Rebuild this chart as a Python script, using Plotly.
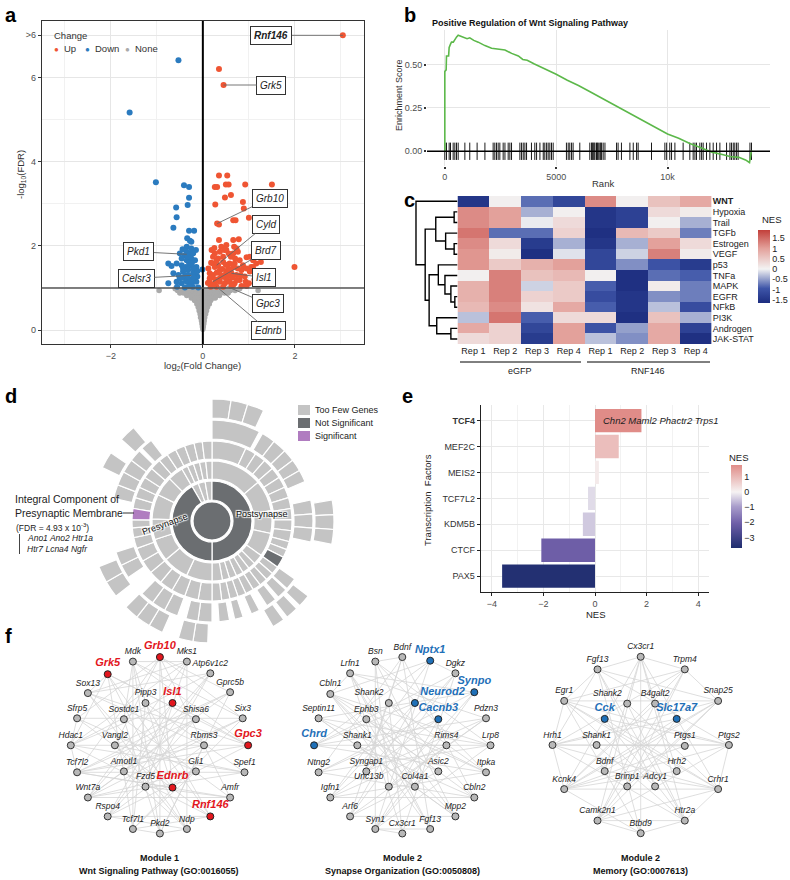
import plotly.graph_objects as go

W, H = 790, 880
FONT = "Liberation Sans, Arial, sans-serif"
def dx(a, b): return [a / W, b / W]
def dy(a, b): return [1 - b / H, 1 - a / H]
def px(x): return x / W
def py(y): return 1 - y / H

# ---------------- Panel a data (volcano) ----------------
up_x = [0.35, 0.45, 3.04, 0.35, 0.53, 0.26, 0.31, 0.50, 0.56, 0.92, 1.50, 0.48, 0.61, 0.27, 0.87, 0.89, 0.66, 0.71,
        1.00, 0.31, 0.35, 0.35, 0.66, 0.78, 0.68, 0.73, 0.19, 0.26, 0.37, 0.51, 0.61, 0.80, 0.22, 0.33, 0.44, 0.58,
        0.69, 0.95, 1.09, 1.16, 1.26, 1.99, 0.15, 0.22, 0.30, 0.40, 0.51, 0.62, 0.73, 0.84, 0.91, 1.02, 0.14, 0.26,
        0.37, 0.48, 0.58, 0.69, 0.80, 0.93, 1.00, 0.17, 0.30, 0.44, 0.66, 0.84, 0.26, 0.37, 0.66, 0.76, 0.87, 0.22,
        0.33, 0.44, 0.55, 0.12, 0.15, 0.21, 0.37, 0.50, 0.74, 0.95, 1.05, 0.66, 0.76, 0.51, 0.40, 1.02, 1.09,
        0.20, 0.28, 0.45, 0.55, 0.60, 0.42, 0.18, 0.30, 0.50, 0.70, 0.64, 0.35, 0.82, 0.25, 0.56, 1.12, 0.95,
        0.62, 0.11, 0.47]
up_y = [6.20, 5.82, 7.00, 3.67, 3.67, 3.40, 3.40, 3.46, 3.46, 3.46, 3.46, 3.15, 3.21, 2.98, 3.04, 2.89, 2.61, 2.61,
        2.67, 2.53, 2.51, 2.14, 2.14, 2.16, 1.98, 1.94, 1.90, 1.82, 1.86, 1.90, 1.74, 1.66, 1.58, 1.54, 1.62, 1.58,
        1.58, 1.73, 1.66, 1.58, 1.62, 1.50, 1.35, 1.31, 1.36, 1.27, 1.39, 1.35, 1.31, 1.43, 1.27, 1.39, 1.15, 1.11,
        1.15, 1.11, 1.15, 1.11, 1.19, 1.15, 1.11, 1.03, 1.03, 1.03, 1.07, 1.05, 1.50, 1.43, 1.50, 1.46, 1.54, 1.74,
        1.70, 1.74, 1.46, 1.46, 1.23, 1.07, 1.23, 1.23, 1.19, 1.46, 1.50, 1.82, 1.86, 2.02, 1.98, 1.74, 1.50,
        1.25, 1.20, 1.30, 1.28, 1.42, 1.45, 1.60, 1.65, 1.55, 1.70, 1.25, 1.38, 1.30, 1.95, 1.82, 1.20, 1.05,
        1.05, 1.12, 1.90]
down_x = [-0.53, -1.59, -1.02, -0.41, -0.30, -0.30, -0.33, -0.58, -0.57, -0.64, -0.30, -0.19, -0.34, -0.28, -0.25,
          -0.35, -0.25, -0.15, -0.50, -0.39, -0.28, -0.46, -0.35, -0.25, -0.17, -0.75, -0.68, -0.57, -0.46, -0.37,
          -0.27, -0.14, -0.01, -0.64, -0.53, -0.43, -0.32, -0.21, -0.12, -0.75, -0.57, -0.46, -0.35, -0.25, -0.14,
          -0.56, -0.39, -0.22, -0.10, -0.50, -0.39, -0.28, -0.17, -0.43, -0.32, -0.21, -0.35, -0.21, -0.44,
          -0.30, -0.20, -0.38, -0.45, -0.12, -0.30, -0.24, -0.33]
down_y = [6.41, 5.17, 3.51, 3.44, 3.40, 3.14, 2.97, 2.91, 2.68, 2.43, 2.36, 2.36, 2.18, 2.12, 2.10, 1.98, 1.94,
          1.90, 1.82, 1.78, 1.82, 1.70, 1.66, 1.70, 1.66, 1.58, 1.52, 1.58, 1.54, 1.50, 1.54, 1.50, 1.44, 1.35,
          1.31, 1.39, 1.31, 1.35, 1.27, 1.11, 1.15, 1.11, 1.15, 1.11, 1.15, 1.03, 1.01, 1.03, 1.01, 1.23, 1.23,
          1.20, 1.20, 1.46, 1.43, 1.46, 1.86, 1.82, 1.92, 1.60, 1.25, 1.30, 1.25, 1.40, 1.05, 1.58, 1.75]
none_x = [0.0, -0.01, 0.01, -0.02, 0.0, 0.02, -0.03, 0.0, 0.03, -0.05, -0.02, 0.01, 0.04,
          -0.06, -0.03, 0.0, 0.03, 0.06, -0.08, -0.04, 0.0, 0.04, 0.08, -0.1, -0.05, 0.0, 0.05, 0.1,
          -0.13, -0.07, -0.01, 0.05, 0.11, 0.14, -0.18, -0.11, -0.04, 0.03, 0.1, 0.17,
          -0.25, -0.17, -0.09, -0.02, 0.06, 0.14, 0.22, 0.27,
          -0.35, -0.27, -0.19, -0.11, -0.03, 0.05, 0.13, 0.21, 0.29, 0.36,
          -0.5, -0.42, -0.34, -0.26, -0.18, -0.1, -0.02, 0.07, 0.15, 0.23, 0.31, 0.39, 0.47, 0.55,
          -0.95, -0.55, -0.47, -0.39, -0.31, -0.23, -0.15, -0.07, 0.02, 0.1, 0.18, 0.26, 0.34, 0.42, 0.5,
          0.6, 0.7, 1.2, -0.6, -0.4, -0.2, 0.15, 0.35, 0.55, 0.8]
none_y = [0.02, 0.08, 0.08, 0.15, 0.15, 0.15, 0.22, 0.22, 0.22, 0.3, 0.3, 0.3, 0.3,
          0.38, 0.38, 0.38, 0.38, 0.38, 0.46, 0.46, 0.46, 0.46, 0.46, 0.54, 0.54, 0.54, 0.54, 0.54,
          0.62, 0.62, 0.62, 0.62, 0.62, 0.62, 0.7, 0.7, 0.7, 0.7, 0.7, 0.7,
          0.76, 0.76, 0.76, 0.76, 0.76, 0.76, 0.76, 0.76,
          0.82, 0.82, 0.82, 0.82, 0.82, 0.82, 0.82, 0.82, 0.82, 0.82,
          0.88, 0.88, 0.88, 0.88, 0.88, 0.88, 0.88, 0.88, 0.88, 0.88, 0.88, 0.88, 0.88, 0.88,
          0.94, 0.94, 0.94, 0.94, 0.94, 0.94, 0.94, 0.94, 0.94, 0.94, 0.94, 0.94, 0.94, 0.94, 0.94,
          0.94, 0.94, 0.94, 0.98, 0.98, 0.98, 0.98, 0.98, 0.98, 0.98]
gene_labels = ["Rnf146", "Grk5", "Grb10", "Cyld", "Brd7", "Isl1", "Gpc3", "Ednrb", "Pkd1", "Celsr3"]
gene_pt_x = [3.04, 0.45, 0.31, 0.30, 0.22, 0.62, 0.58, 0.30, -0.35, -0.25]
gene_pt_y = [7.00, 5.82, 2.53, 1.54, 1.15, 1.35, 1.01, 1.03, 1.80, 1.30]
gene_box_x = [1.49, 1.49, 1.45, 1.38, 1.38, 1.32, 1.41, 1.43, -1.39, -1.45]
gene_box_y = [7.00, 5.82, 3.13, 2.51, 1.88, 1.25, 0.62, -0.02, 1.86, 1.23]

# ---------------- Panel b data (GSEA) ----------------
es_rank = [0, 0, 60, 75, 170, 195, 260, 300, 380, 420, 450, 530, 600, 700, 800, 900, 1000, 1120, 1300, 1500,
           1800, 2100, 2400, 2700, 3000, 3300, 3500, 3700, 4000, 4500, 5000, 5500, 6000, 6500, 7000, 7500, 8000,
           8500, 9000, 9500, 10000, 10500, 11000, 11500, 12000, 12500, 12800, 13200, 13500, 13680, 13720, 13770]
es_score = [0, 0.46, 0.47, 0.55, 0.55, 0.60, 0.62, 0.63, 0.63, 0.64, 0.64, 0.66, 0.67, 0.665, 0.66, 0.655, 0.65,
            0.655, 0.64, 0.63, 0.61, 0.595, 0.59, 0.585, 0.565, 0.55, 0.53, 0.525, 0.505, 0.475, 0.445, 0.41,
            0.38, 0.345, 0.31, 0.275, 0.24, 0.205, 0.17, 0.135, 0.10, 0.075, 0.045, 0.02, -0.005, -0.02, -0.03,
            -0.035, -0.05, -0.065, -0.02, 0.005]
hit_ranks = [0, 75, 195, 255, 375, 450, 525, 600, 900, 1120, 1450, 1800, 2170, 2245, 2320, 2395, 2470, 2620, 2700,
             2845, 2920, 2995, 3370, 3445, 3520, 3595, 3670, 3890, 4040, 4120, 4270, 4420, 4490, 4570, 4640, 4715,
             4790, 4865, 5460, 5540, 5610, 5690, 5760, 6060, 6510, 6590, 6620, 6660, 6700, 6740, 6810, 6850, 6890,
             6960, 7000, 7040, 7110, 7190, 7710, 7780, 7930, 8310, 8460, 8610, 8680, 9280, 9880, 9960, 10100,
             10180, 10330, 10700, 11000, 11150, 11230, 11300, 11450, 11530, 11600, 11750, 11900, 12050, 12200,
             12350, 12650, 12800, 12870, 12950, 13020, 13100, 13170, 13700, 13770]

# ---------------- Panel c data (heatmap) ----------------
pathways = ["WNT", "Hypoxia", "Trail", "TGFb", "Estrogen", "VEGF", "p53", "TNFa", "MAPK", "EGFR", "NFkB", "PI3K",
            "Androgen", "JAK-STAT"]
samples = ["Rep 1", "Rep 2", "Rep 3", "Rep 4", "Rep 1", "Rep 2", "Rep 3", "Rep 4"]
groups = ["eGFP", "RNF146"]
nes_matrix = [
    [-1.5, 0.05, -0.8, -1.2, 1.2, 0.05, 0.6, 0.9],
    [1.2, 1.0, -0.4, 0.05, -1.5, -1.3, 0.3, 0.1],
    [1.2, 1.0, -0.05, 0.3, -1.5, -1.3, 0.05, -0.4],
    [1.4, -0.8, -0.8, 0.4, -1.6, 0.7, 0.5, -0.7],
    [1.2, 0.3, -1.4, -0.4, -1.5, -0.4, 1.0, 0.3],
    [1.1, 0.1, -1.6, -0.1, -1.2, -0.2, 1.3, 0.1],
    [1.1, 0.5, 0.8, 1.0, -1.2, -0.6, -1.0, -1.4],
    [0.05, 1.3, 0.6, 0.7, 0.05, -1.6, -0.8, -0.9],
    [0.8, 1.3, -0.2, 0.5, -0.9, -1.6, 0.1, -0.7],
    [0.8, 1.3, 0.4, 0.5, -1.1, -1.5, -0.6, -0.7],
    [0.7, 1.2, 0.2, 0.9, -0.9, -1.5, -0.3, -1.1],
    [-0.3, 1.4, -0.9, 0.3, 0.3, -1.6, 0.6, -0.4],
    [0.9, 0.4, -1.2, 1.0, -1.0, -0.5, 0.9, -1.3],
    [0.3, 0.4, -1.4, 1.0, -0.3, -0.6, 0.9, -1.6],
]
# dendrogram merges: (left, right, new cluster, height)
merges = [
    ("Hypoxia", "Trail", "A", 3.4), ("Estrogen", "VEGF", "B", 3.4), ("TGFb", "B", "C", 12.0),
    ("A", "C", "D", 22.0), ("EGFR", "NFkB", "E", 2.7), ("MAPK", "E", "F", 6.7), ("TNFa", "F", "G", 12.7),
    ("p53", "G", "Hc", 19.4), ("Androgen", "JAK-STAT", "I", 6.7), ("PI3K", "I", "J", 21.0),
    ("Hc", "J", "K", 28.7), ("D", "K", "L", 32.7), ("WNT", "L", "R", 42.0),
]

# ---------------- Panel d data (sunburst) ----------------
ring_inner = [0, 21, 42, 62, 82, 103]
ring_outer = [19, 40, 60, 80, 101, 122]
seg = [  # (ring, start, end, status) status: 0 too few, 1 not significant, 2 significant
    (0, 0, 360, 1),
    (1, 0, 180, 1), (1, 180, 330, 1), (1, 330, 340, 0), (1, 340, 350, 0), (1, 350, 360, 0),
    (2, 0, 50, 0), (2, 50, 80, 0), (2, 80, 102, 0), (2, 102, 125, 0), (2, 125, 135, 0), (2, 135, 142, 0),
    (2, 142, 149, 0), (2, 149, 156, 0), (2, 156, 163, 0), (2, 163, 170, 0), (2, 170, 180, 0),
    (2, 180, 205, 0), (2, 205, 230, 0), (2, 230, 252, 0), (2, 252, 272, 0), (2, 272, 296, 0), (2, 296, 315, 0),
    (2, 315, 330, 0), (2, 330, 336, 0), (2, 336, 342, 0), (2, 342, 348, 0), (2, 348, 354, 0), (2, 354, 360, 0),
    (3, 0, 25, 0), (3, 25, 33, 0), (3, 33, 41, 0), (3, 41, 49, 0), (3, 49, 57, 0), (3, 57, 65, 0), (3, 65, 73, 0),
    (3, 73, 81, 0), (3, 81, 89, 0), (3, 89, 97, 0), (3, 97, 105, 0), (3, 105, 111, 0), (3, 111, 117, 0),
    (3, 117, 125, 1), (3, 125, 131, 0), (3, 131, 137, 0), (3, 137, 143, 0), (3, 143, 149, 0), (3, 149, 155, 0),
    (3, 155, 161, 0), (3, 161, 167, 0), (3, 167, 173, 0), (3, 173, 180, 0), (3, 180, 190, 0), (3, 190, 200, 0),
    (3, 200, 210, 0), (3, 210, 220, 0), (3, 220, 230, 0), (3, 230, 240, 0), (3, 240, 250, 0), (3, 250, 258, 0),
    (3, 258, 265, 0), (3, 265, 271, 0), (3, 271, 279, 2), (3, 279, 287, 0), (3, 287, 295, 0), (3, 295, 303, 0),
    (3, 303, 311, 0), (3, 311, 319, 0), (3, 319, 326, 0), (3, 326, 333, 0), (3, 333, 340, 0), (3, 340, 347, 0),
    (3, 347, 353, 0), (3, 353, 360, 0),
    (4, 0, 28, 0), (4, 30, 38, 0), (4, 38, 46, 0), (4, 46, 53, 0), (4, 53, 60, 0), (4, 60, 67, 0),
    (4, 78, 86, 0), (4, 86, 94, 0), (4, 94, 102, 0), (4, 125, 132, 0), (4, 133, 139, 0), (4, 141, 147, 0),
    (4, 152, 157, 0), (4, 162, 167, 0), (4, 170, 176, 0), (4, 180, 188, 0), (4, 188, 195, 0), (4, 200, 208, 0),
    (4, 208, 216, 0), (4, 216, 224, 0), (4, 236, 244, 0), (4, 244, 252, 0), (4, 283, 291, 0), (4, 291, 299, 0),
    (4, 299, 307, 0), (4, 307, 314, 0), (4, 316, 323, 0),
    (5, 0, 9, 0), (5, 9, 17, 0), (5, 17, 25, 0), (5, 80, 87, 0), (5, 87, 94, 0), (5, 94, 101, 0),
    (5, 128, 134, 0), (5, 136, 142, 0), (5, 144, 150, 0), (5, 182, 189, 0), (5, 189, 196, 0), (5, 204, 211, 0),
    (5, 211, 218, 0), (5, 218, 225, 0), (5, 232, 240, 0), (5, 240, 248, 0), (5, 296, 304, 0), (5, 312, 320, 0),
]
status_names = ["Too Few Genes", "Not Significant", "Significant"]
status_colors = ["#c4c4c4", "#6b6e71", "#b07cc0"]

# ---------------- Panel e data (TF bars) ----------------
tfs = ["TCF4", "MEF2C", "MEIS2", "TCF7L2", "KDM5B", "CTCF", "PAX5"]
tf_nes = [1.8, 0.92, 0.15, -0.27, -0.47, -2.08, -3.6]

# ---------------- Panel f data (networks) ----------------
mod1_nodes = ["Grb10", "Mdk", "Mks1", "Grk5", "Atp6v1c2", "Sox13", "Gprc5b", "Pipp3", "Isl1", "Sfrp5", "Sostdc1",
              "Shisa6", "Six3", "Hdac1", "Vangl2", "Rbms3", "Gpc3", "Tcf7l2", "Amotl1", "Gli1", "Spef1", "Fzd5",
              "Ednrb", "Wnt7a", "Amfr", "Rspo4", "Rnf146", "Tcf7l1", "Pkd2", "Ndp"]
mod1_x = [0.01, -0.29, 0.31, -0.57, 0.57, -0.79, 0.79, -0.15, 0.15, -0.91, -0.39, 0.41, 0.93, -0.98, -0.49, 0.50,
          0.99, -0.91, -0.39, 0.41, 0.95, -0.15, 0.15, -0.79, 0.79, -0.57, 0.57, -0.29, 0.01, 0.31]
mod1_y = [0.98, 0.93, 0.93, 0.79, 0.80, 0.58, 0.59, 0.47, 0.47, 0.30, 0.29, 0.29, 0.30, 0.0, 0.0, 0.0, 0.0,
          -0.30, -0.29, -0.29, -0.30, -0.46, -0.47, -0.58, -0.58, -0.79, -0.79, -0.93, -0.98, -0.93]
mod1_hi = ["Grb10", "Grk5", "Isl1", "Gpc3", "Ednrb", "Rnf146"]
mod1_edges = ["Grb10-Gprc5b", "Grb10-Pkd2", "Grb10-Sfrp5", "Grb10-Six3", "Grb10-Tcf7l2", "Grb10-Amfr",
              "Grb10-Vangl2", "Grb10-Ednrb", "Mdk-Pkd2", "Mdk-Gpc3", "Mdk-Sostdc1", "Mdk-Tcf7l1", "Mdk-Six3",
              "Mks1-Hdac1", "Mks1-Ndp", "Mks1-Wnt7a", "Mks1-Sox13", "Grk5-Gpc3", "Grk5-Rnf146", "Grk5-Shisa6",
              "Grk5-Tcf7l1", "Grk5-Hdac1", "Atp6v1c2-Hdac1", "Atp6v1c2-Rspo4", "Atp6v1c2-Sox13", "Atp6v1c2-Amotl1",
              "Sox13-Gpc3", "Sox13-Rbms3", "Sox13-Ndp", "Gprc5b-Tcf7l2", "Gprc5b-Wnt7a", "Gprc5b-Vangl2",
              "Pipp3-Rnf146", "Pipp3-Spef1", "Pipp3-Tcf7l1", "Isl1-Wnt7a", "Isl1-Rspo4", "Isl1-Gpc3", "Isl1-Hdac1",
              "Sfrp5-Six3", "Sfrp5-Rnf146", "Sfrp5-Gli1", "Sostdc1-Amfr", "Sostdc1-Pkd2", "Shisa6-Tcf7l2",
              "Shisa6-Rspo4", "Shisa6-Wnt7a", "Six3-Wnt7a", "Six3-Tcf7l1", "Hdac1-Gpc3", "Hdac1-Spef1",
              "Hdac1-Rnf146", "Vangl2-Spef1", "Vangl2-Ndp", "Rbms3-Tcf7l2", "Rbms3-Rspo4", "Rbms3-Pkd2",
              "Gpc3-Tcf7l2", "Gpc3-Rspo4", "Tcf7l2-Amfr", "Tcf7l2-Spef1", "Amotl1-Ndp", "Amotl1-Six3",
              "Gli1-Wnt7a", "Gli1-Tcf7l1", "Spef1-Wnt7a", "Fzd5-Atp6v1c2", "Fzd5-Mks1", "Fzd5-Amfr",
              "Ednrb-Sox13", "Ednrb-Mdk", "Ednrb-Tcf7l2", "Wnt7a-Amfr", "Rspo4-Ndp", "Rspo4-Rnf146",
              "Tcf7l1-Rnf146", "Pkd2-Gprc5b", "Ndp-Grk5", "Mdk-Mks1", "Grk5-Sox13", "Sfrp5-Hdac1",
              "Tcf7l1-Pkd2", "Pkd2-Ndp", "Hdac1-Tcf7l2"]

mod2_nodes = ["Bsn", "Bdnf", "Nptx1", "Lrfn1", "Dgkz", "Cbln1", "Synpo", "Shank2", "Neurod2", "Septin11", "Ephb3",
              "Cacnb3", "Pdzn3", "Chrd", "Shank1", "Rims4", "Lrp8", "Ntng2", "Syngap1", "Asic2", "Itpka", "Unc13b",
              "Col4a1", "Igfn1", "Cbln2", "Arf6", "Mpp2", "Syn1", "Cx3cr1", "Fgf13"]
mod2_x = [-0.30, 0.0, 0.31, -0.58, 0.59, -0.80, 0.80, -0.15, 0.14, -0.93, -0.40, 0.40, 0.93, -0.98, -0.50, 0.49,
          0.98, -0.93, -0.40, 0.40, 0.93, -0.15, 0.14, -0.80, 0.80, -0.58, 0.59, -0.30, 0.0, 0.31]
mod2_y = [0.93, 0.98, 0.94, 0.80, 0.80, 0.57, 0.59, 0.47, 0.47, 0.30, 0.29, 0.29, 0.30, 0.0, 0.0, 0.0, 0.0,
          -0.30, -0.29, -0.29, -0.30, -0.46, -0.46, -0.58, -0.58, -0.79, -0.79, -0.93, -0.98, -0.93]
mod2_hi = ["Nptx1", "Synpo", "Neurod2", "Cacnb3", "Chrd"]
mod2_edges = ["Bsn-Lrp8", "Bsn-Mpp2", "Bsn-Itpka", "Bsn-Syn1", "Bsn-Unc13b", "Bdnf-Ntng2", "Bdnf-Cbln2",
              "Bdnf-Syngap1", "Bdnf-Arf6", "Bdnf-Fgf13", "Nptx1-Chrd", "Nptx1-Syn1", "Nptx1-Igfn1", "Nptx1-Cbln1",
              "Lrfn1-Pdzn3", "Lrfn1-Mpp2", "Lrfn1-Col4a1", "Lrfn1-Synpo", "Dgkz-Chrd", "Dgkz-Arf6",
              "Dgkz-Syngap1", "Dgkz-Cx3cr1", "Cbln1-Lrp8", "Cbln1-Itpka", "Cbln1-Fgf13", "Synpo-Septin11",
              "Synpo-Ntng2", "Synpo-Syn1", "Shank2-Cbln2", "Shank2-Cx3cr1", "Shank2-Itpka", "Neurod2-Igfn1",
              "Neurod2-Arf6", "Neurod2-Chrd", "Septin11-Lrp8", "Septin11-Mpp2", "Septin11-Asic2", "Ephb3-Itpka",
              "Ephb3-Fgf13", "Ephb3-Cbln2", "Cacnb3-Ntng2", "Cacnb3-Syn1", "Cacnb3-Igfn1", "Pdzn3-Chrd",
              "Pdzn3-Arf6", "Pdzn3-Unc13b", "Chrd-Lrp8", "Chrd-Itpka", "Shank1-Cbln2", "Shank1-Rims4",
              "Shank1-Mpp2", "Rims4-Igfn1", "Rims4-Syn1", "Lrp8-Ntng2", "Lrp8-Syn1", "Ntng2-Cbln2",
              "Syngap1-Pdzn3", "Asic2-Cbln1", "Asic2-Arf6", "Itpka-Igfn1", "Unc13b-Synpo", "Col4a1-Cbln1",
              "Col4a1-Septin11", "Igfn1-Cbln2", "Arf6-Mpp2", "Syn1-Fgf13", "Cx3cr1-Lrfn1", "Mpp2-Cbln1",
              "Fgf13-Lrfn1", "Bsn-Bdnf", "Nptx1-Dgkz", "Lrfn1-Cbln1", "Syn1-Cx3cr1"]

mod3_nodes = ["Cx3cr1", "Fgf13", "Trpm4", "Egr1", "Shank2", "B4galt2", "Snap25", "Cck", "Slc17a7", "Hrh1",
              "Shank1", "Ptgs1", "Ptgs2", "Bdnf", "Hrh2", "Kcnk4", "Brinp1", "Adcy1", "Crhr1", "Camk2n1", "Htr2a",
              "Btbd9"]
mod3_x = [0.0, -0.48, 0.49, -0.85, -0.15, 0.16, 0.86, -0.40, 0.40, -0.98, -0.49, 0.49, 0.98, -0.40, 0.40, -0.85,
          -0.15, 0.16, 0.86, -0.48, 0.49, 0.0]
mod3_y = [0.98, 0.84, 0.84, 0.49, 0.46, 0.46, 0.49, 0.29, 0.29, 0.0, 0.0, -0.01, 0.0, -0.29, -0.29, -0.49,
          -0.46, -0.46, -0.49, -0.84, -0.84, -0.98]
mod3_hi = ["Cck", "Slc17a7"]
mod3_edges = ["Cx3cr1-Kcnk4", "Cx3cr1-Crhr1", "Cx3cr1-Camk2n1", "Cx3cr1-Htr2a", "Cx3cr1-Bdnf", "Cx3cr1-Hrh2",
              "Fgf13-Ptgs2", "Fgf13-Htr2a", "Fgf13-Btbd9", "Fgf13-Snap25", "Trpm4-Hrh1", "Trpm4-Camk2n1",
              "Trpm4-Kcnk4", "Trpm4-Egr1", "Egr1-Snap25", "Egr1-Ptgs2", "Egr1-Crhr1", "Egr1-Btbd9",
              "Shank2-Htr2a", "Shank2-Crhr1", "B4galt2-Kcnk4", "B4galt2-Camk2n1", "Snap25-Hrh1", "Snap25-Kcnk4",
              "Snap25-Camk2n1", "Cck-Ptgs2", "Cck-Crhr1", "Cck-Htr2a", "Slc17a7-Hrh1", "Slc17a7-Kcnk4",
              "Slc17a7-Camk2n1", "Hrh1-Ptgs2", "Hrh1-Crhr1", "Hrh1-Htr2a", "Shank1-Ptgs2", "Shank1-Htr2a",
              "Ptgs1-Kcnk4", "Ptgs1-Hrh1", "Ptgs2-Kcnk4", "Ptgs2-Camk2n1", "Bdnf-Snap25", "Bdnf-Crhr1",
              "Hrh2-Egr1", "Hrh2-Kcnk4", "Kcnk4-Crhr1", "Kcnk4-Btbd9", "Brinp1-Snap25", "Brinp1-Trpm4",
              "Adcy1-Fgf13", "Adcy1-Egr1", "Crhr1-Camk2n1", "Camk2n1-Htr2a", "Htr2a-Btbd9", "Btbd9-Cx3cr1",
              "Fgf13-Egr1", "Trpm4-Snap25", "Ptgs2-Crhr1", "Hrh1-Egr1", "Hrh1-Kcnk4", "Fgf13-Hrh1",
              "Fgf13-Cx3cr1", "Trpm4-Cx3cr1", "Btbd9-Camk2n1", "Crhr1-Htr2a"]
# label placement tweaks (where labels would collide)
label_side = {(1, "Shank2"): "top left", (1, "Neurod2"): "top right", (1, "Unc13b"): "top left",
              (2, "Shank2"): "top left"}
module_titles = [("Module 1", "Wnt Signaling Pathway (GO:0016055)"),
                 ("Module 2", "Synapse Organization (GO:0050808)"),
                 ("Module 2", "Memory (GO:0007613)")]

# =========================================================
fig = go.Figure()
TICKF = dict(family=FONT, size=9, color="#4d4d4d")
ann = []
shapes = []


def A(x, y, text, size=9, color="#222", xanchor="center", yanchor="middle", **kw):
    d = dict(x=px(x), y=py(y), xref="paper", yref="paper", text=text, showarrow=False, xanchor=xanchor,
             yanchor=yanchor, font=dict(family=FONT, size=size, color=color))
    d.update(kw)
    ann.append(d)


# ---------- Panel a ----------
fig.add_trace(go.Scatter(x=none_x, y=none_y, mode="markers", xaxis="x", yaxis="y",
                         marker=dict(color="#aaaaaa", size=5.5), showlegend=False, hoverinfo="skip"))
fig.add_trace(go.Scatter(x=down_x, y=down_y, mode="markers", xaxis="x", yaxis="y",
                         marker=dict(color="#2b7bbf", size=6), showlegend=False, hoverinfo="skip"))
fig.add_trace(go.Scatter(x=up_x, y=up_y, mode="markers", xaxis="x", yaxis="y",
                         marker=dict(color="#ef5533", size=6), showlegend=False, hoverinfo="skip"))
shapes.append(dict(type="line", xref="x", yref="y domain", x0=0, x1=0, y0=0, y1=1,
                   line=dict(color="black", width=2)))
shapes.append(dict(type="line", xref="x domain", yref="y", x0=0, x1=1, y0=1, y1=1,
                   line=dict(color="#555555", width=1.5)))
for i, g in enumerate(gene_labels):
    txt = "<b><i>%s</i></b>" % g if g == "Rnf146" else "<i>%s</i>" % g
    ann.append(dict(x=gene_pt_x[i], y=gene_pt_y[i], xref="x", yref="y", ax=gene_box_x[i], ay=gene_box_y[i],
                    axref="x", ayref="y", text=txt, showarrow=True, arrowhead=0, arrowwidth=0.9,
                    arrowcolor="#666666", bordercolor="#333333", borderwidth=1, borderpad=3, bgcolor="white",
                    xanchor="center", yanchor="middle",
                    font=dict(family=FONT, size=10, color="#222")))
A(52, 36, "Change", size=9.5, color="#333", xanchor="left")
for lx, lab, col in [(52, "Up", "#ef5533"), (83, "Down", "#2b7bbf"), (123, "None", "#aaaaaa")]:
    A(lx, 49.5, "●", size=8, color=col, xanchor="left")
    A(lx + 10, 49, lab, size=9.5, color="#333", xanchor="left")
A(203, 366, "log<sub>2</sub>(Fold Change)", size=9.5, color="#333")
A(21, 175, "-log<sub>10</sub>(FDR)", size=9.5, color="#333", textangle=-90)

# ---------- Panel b ----------
rug_x, rug_y = [], []
for r in hit_ranks:
    rug_x += [r, r, None]
    rug_y += [-0.05, 0.05, None]
shapes.append(dict(type="line", xref="x2 domain", yref="y2", x0=0, x1=1, y0=0, y1=0,
                   line=dict(color="black", width=1.6)))
fig.add_trace(go.Scatter(x=rug_x, y=rug_y, mode="lines", xaxis="x2", yaxis="y2",
                         line=dict(color="black", width=0.9), showlegend=False, hoverinfo="skip"))
fig.add_trace(go.Scatter(x=es_rank, y=es_score, mode="lines", xaxis="x2", yaxis="y2",
                         line=dict(color="#5cb84a", width=1.6), showlegend=False, hoverinfo="skip"))
A(430, 23, "<b>Positive Regulation of Wnt Signaling Pathway</b>", size=9, color="#111", xanchor="left")
A(603, 183, "Rank", size=9.5, color="#333")
A(399, 95, "Enrichment Score", size=9, color="#333", textangle=-90)

# ---------- Panel c ----------
heat_cs = [[0, "#1c2d7f"], [0.2, "#3e55a8"], [0.466, "#f3f3f3"], [0.75, "#e3a09a"], [1, "#c23f3a"]]
fig.add_trace(go.Heatmap(z=nes_matrix, x=list(range(8)), y=list(range(14)), xaxis="x3", yaxis="y3",
                         colorscale=heat_cs, zmin=-1.66, zmax=1.9, hoverinfo="skip",
                         colorbar=dict(x=px(758), xanchor="left", y=py(230), yanchor="top", len=73 / H,
                                       thickness=12, outlinewidth=0, ticks="", xpad=0, ypad=0,
                                       tickvals=[1.5, 1, 0.5, 0, -0.5, -1, -1.5],
                                       ticktext=["1.5", "1", "0.5", "0", "-0.5", "-1", "-1.5"],
                                       tickfont=dict(family=FONT, size=9, color="#222"))))
pos = {name: (0.0, float(i)) for i, name in enumerate(pathways)}
dxs, dys = [], []
for left, right, new, h in merges:
    (xl, yl), (xr, yr) = pos[left], pos[right]
    dxs += [xl, h, h, xr, None]
    dys += [yl, yl, yr, yr, None]
    pos[new] = (h, (yl + yr) / 2)
fig.add_trace(go.Scatter(x=dxs, y=dys, mode="lines", xaxis="x4", yaxis="y4",
                         line=dict(color="black", width=1.4), showlegend=False, hoverinfo="skip"))
A(760, 219, "NES", size=9.5, xanchor="left")
shapes.append(dict(type="line", xref="paper", yref="paper", x0=px(460), x1=px(581), y0=py(362), y1=py(362),
                   line=dict(color="black", width=1)))
shapes.append(dict(type="line", xref="paper", yref="paper", x0=px(587), x1=px(710), y0=py(362), y1=py(362),
                   line=dict(color="black", width=1)))
A(520, 371, groups[0])
A(648, 371, groups[1])

# ---------- Panel d ----------
for s in range(3):
    th, wd, bs, rr = [], [], [], []
    for ring, a0, a1, st in seg:
        if st != s:
            continue
        th.append((a0 + a1) / 2)
        wd.append(a1 - a0)
        bs.append(ring_inner[ring])
        rr.append(ring_outer[ring] - ring_inner[ring])
    fig.add_trace(go.Barpolar(theta=th, width=wd, base=bs, r=rr, subplot="polar",
                              marker=dict(color=status_colors[s], line=dict(color="white", width=1.2)),
                              showlegend=False, hoverinfo="skip"))
for i, (nm, col) in enumerate(zip(status_names, status_colors)):
    y0 = 405 + 13 * i
    shapes.append(dict(type="rect", xref="paper", yref="paper", x0=px(298), x1=px(310), y0=py(y0), y1=py(y0 + 10),
                       fillcolor=col, line=dict(width=0)))
    A(313, y0 + 5, nm, size=9, xanchor="left")
halo = "1px 1px 1px white, -1px -1px 1px white, 1px -1px 1px white, -1px 1px 1px white"
ann.append(dict(x=px(262), y=py(514), xref="paper", yref="paper", text="Postsynapse", showarrow=False,
                xanchor="center", yanchor="middle", font=dict(family=FONT, size=9, color="#111", shadow=halo)))
ann.append(dict(x=px(165), y=py(524), xref="paper", yref="paper", text="Presynapse", showarrow=False,
                xanchor="center", yanchor="middle", textangle=-20,
                font=dict(family=FONT, size=9, color="#111", shadow=halo)))
A(13, 499, "Integral Component of", size=10.5, xanchor="left")
A(13, 513, "Presynaptic Membrane", size=10.5, xanchor="left")
shapes.append(dict(type="line", xref="paper", yref="paper", x0=px(123), x1=px(134), y0=py(513), y1=py(513),
                   line=dict(color="#333", width=1)))
A(14, 527, "(FDR = 4.93 x 10<sup>-3</sup>)", size=8.5, xanchor="left")
shapes.append(dict(type="line", xref="paper", yref="paper", x0=px(19.5), x1=px(19.5), y0=py(534), y1=py(554),
                   line=dict(color="#444", width=1)))
A(25, 538, "<i>Ano1 Ano2 Htr1a</i>", size=8.5, xanchor="left")
A(25, 549, "<i>Htr7 Lcna4 Ngfr</i>", size=8.5, xanchor="left")

# ---------- Panel e ----------
bar_cs = [[0, "#1e2d6e"], [0.3, "#6f5fa8"], [0.5, "#a99dcb"], [0.675, "#f6f3f3"], [1, "#e08c88"]]
fig.add_trace(go.Bar(x=tf_nes, y=tfs, orientation="h", xaxis="x5", yaxis="y5", width=0.9,
                     marker=dict(color=tf_nes, colorscale=bar_cs, cmin=-3.7, cmax=1.78, showscale=True,
                                 line=dict(width=0),
                                 colorbar=dict(x=px(731), xanchor="left", y=py(465), yanchor="top",
                                               len=83 / H, thickness=11, outlinewidth=0, ticks="", xpad=0,
                                               ypad=0, tickvals=[1, 0, -1, -2, -3],
                                               ticktext=["1", "0", "−1", "−2", "−3"],
                                               tickfont=dict(family=FONT, size=9, color="#222"))),
                     showlegend=False, hoverinfo="skip"))
ann.append(dict(x=0.25, y="TCF4", xref="x5", yref="y5", text="<i>Chn2 Maml2 Phactr2 Trps1</i>", showarrow=False,
                xanchor="left", yanchor="middle", font=dict(family=FONT, size=9.5, color="#222")))
A(739, 457, "NES", size=9.5)
A(596, 614, "NES", size=9.5)
A(427, 500, "Transcription  Factors", size=9.5, textangle=-90)

# ---------- Panel f ----------
modules = [(mod1_nodes, mod1_x, mod1_y, mod1_hi, mod1_edges, "#e3161d", (159, 745.3)),
           (mod2_nodes, mod2_x, mod2_y, mod2_hi, mod2_edges, "#1f70b8", (402.3, 745.3)),
           (mod3_nodes, mod3_x, mod3_y, mod3_hi, mod3_edges, "#1f70b8", (640.7, 745.0))]
net_axes = []
for k, (nodes, nx_, ny_, hi, edges, hcol, (cx, cy)) in enumerate(modules):
    xa, ya = "x%d" % (6 + k), "y%d" % (6 + k)
    idx = {n: i for i, n in enumerate(nodes)}
    ex, ey = [], []
    for e in edges:
        a, b = e.split("-")
        ex += [nx_[idx[a]], nx_[idx[b]], None]
        ey += [ny_[idx[a]], ny_[idx[b]], None]
    fig.add_trace(go.Scatter(x=ex, y=ey, mode="lines", xaxis=xa, yaxis=ya,
                             line=dict(color="#d6d6d6", width=0.8), showlegend=False, hoverinfo="skip"))
    nn = [n for n in nodes if n not in hi]
    fig.add_trace(go.Scatter(x=[nx_[idx[n]] for n in nn], y=[ny_[idx[n]] for n in nn], mode="markers+text",
                             xaxis=xa, yaxis=ya, text=["<i>%s</i>" % n for n in nn],
                             textposition=[label_side.get((k, n), "top center") for n in nn],
                             textfont=dict(family=FONT, size=8.5, color="#222"), cliponaxis=False,
                             marker=dict(color="#b8b8b8", size=7, line=dict(color="#333", width=1)),
                             showlegend=False, hoverinfo="skip"))
    fig.add_trace(go.Scatter(x=[nx_[idx[n]] for n in hi], y=[ny_[idx[n]] for n in hi], mode="markers+text",
                             xaxis=xa, yaxis=ya, text=["<b><i>%s</i></b>" % n for n in hi],
                             textposition=[label_side.get((k, n), "top center") for n in hi],
                             textfont=dict(family=FONT, size=11, color=hcol), cliponaxis=False,
                             marker=dict(color=hcol, size=7, line=dict(color="#222", width=1)),
                             showlegend=False, hoverinfo="skip"))
    net_axes.append((k, cx, cy))
    t1, t2 = module_titles[k]
    A(cx, 858, "<b>%s</b>" % t1, size=9, color="#111")
    A(cx, 871, "<b>%s</b>" % t2, size=9, color="#111")

# panel letters
for L, x0, y0 in [("a", 3, 2), ("b", 402, 2), ("c", 402, 187), ("d", 3, 383), ("e", 400, 383), ("f", 3, 623)]:
    A(x0, y0, "<b>%s</b>" % L, size=20, color="black", xanchor="left", yanchor="top")

grid = "#e6e6e6"
layout = dict(
    width=W, height=H, margin=dict(l=0, r=0, t=0, b=0), paper_bgcolor="white", plot_bgcolor="white",
    font=dict(family=FONT), showlegend=False,
    xaxis=dict(domain=dx(41.7, 364), range=[-3.5, 3.5], tickvals=[-2, 0, 2], showgrid=True, gridcolor=grid,
               minor=dict(tickvals=[-3, -1, 1, 3], showgrid=True, gridcolor="#f1f1f1", ticks=""),
               zeroline=False, showline=True, mirror=True, linecolor="#333", linewidth=1, ticks="outside",
               ticklen=3, tickcolor="#333", tickfont=TICKF),
    yaxis=dict(domain=dy(21, 344), range=[-0.33, 7.34], tickvals=[0, 2, 4, 6, 7],
               ticktext=["0", "2", "4", "6", ">6"], showgrid=True, gridcolor=grid,
               minor=dict(tickvals=[1, 3, 5], showgrid=True, gridcolor="#f1f1f1", ticks=""),
               zeroline=False, showline=True, mirror=True, linecolor="#333", linewidth=1, ticks="outside",
               ticklen=3, tickcolor="#333", tickfont=TICKF),
    xaxis2=dict(domain=dx(427, 770), range=[-800, 14600], tickvals=[0, 5000, 10000], showgrid=True,
                gridcolor=grid, zeroline=False, showline=False, ticks="outside", ticklen=2, tickwidth=2,
                tickcolor="#333", tickfont=TICKF, anchor="y2"),
    yaxis2=dict(domain=dy(30, 166), range=[-0.085, 0.70], tickvals=[0, 0.25, 0.5],
                ticktext=["0.00", "0.25", "0.50"], showgrid=True, gridcolor=grid, zeroline=False,
                showline=False, ticks="outside", ticklen=2, tickwidth=2, tickcolor="#333", tickfont=TICKF,
                anchor="x2"),
    xaxis3=dict(domain=dx(457.5, 711.7), range=[-0.5, 7.5], tickvals=list(range(8)), ticktext=samples,
                showgrid=False, zeroline=False, ticks="", tickfont=dict(family=FONT, size=9, color="#222"),
                anchor="y3"),
    yaxis3=dict(domain=dy(196, 344.3), range=[13.5, -0.5], tickvals=list(range(14)),
                ticktext=["<b>WNT</b>"] + pathways[1:], side="right", showgrid=False, zeroline=False,
                ticks="", tickfont=dict(family=FONT, size=9, color="#222"), anchor="x3"),
    xaxis4=dict(domain=dx(415, 457.5), range=[43, 0], visible=False, anchor="y4"),
    yaxis4=dict(domain=dy(196, 344.3), range=[13.5, -0.5], visible=False, anchor="x4"),
    xaxis5=dict(domain=dx(480.7, 709.3), range=[-4.43, 4.43], tickvals=[-4, -2, 0, 2, 4],
                ticktext=["−4", "−2", "0", "2", "4"], showgrid=True, gridcolor="#e8e8e8",
                minor=dict(tickvals=[-3, -1, 1, 3], showgrid=True, gridcolor="#f2f2f2", ticks=""),
                zeroline=False, showline=True, linecolor="#222", linewidth=1, ticks="outside", ticklen=3,
                tickcolor="#222", tickfont=TICKF, anchor="y5"),
    yaxis5=dict(domain=dy(405, 591.7), type="category", categoryorder="array", categoryarray=tfs,
                range=[6.6, -0.6], tickvals=tfs, ticktext=["<b>TCF4</b>"] + tfs[1:], showgrid=True,
                gridcolor="#e8e8e8", zeroline=False, showline=True, linecolor="#222", linewidth=1,
                ticks="outside", ticklen=3, tickcolor="#222", tickfont=dict(family=FONT, size=9, color="#333"),
                anchor="x5"),
    polar=dict(domain=dict(x=dx(89, 335), y=dy(398, 644)), bgcolor="rgba(0,0,0,0)", hole=0,
               radialaxis=dict(visible=False, range=[0, 123]),
               angularaxis=dict(visible=False, rotation=90, direction="clockwise")),
    annotations=ann, shapes=shapes,
)
for k, cx, cy in net_axes:
    layout["xaxis%d" % (6 + k)] = dict(domain=dx(cx - 100, cx + 100), range=[-1.111, 1.111], visible=False,
                                       anchor="y%d" % (6 + k))
    layout["yaxis%d" % (6 + k)] = dict(domain=dy(cy - 100, cy + 100), range=[-1.111, 1.111], visible=False,
                                       anchor="x%d" % (6 + k))
fig.update_layout(**layout)
fig.write_html("out.html", config={"displayModeBar": False},
               post_script="document.body.style.margin='0px';document.body.style.overflow='hidden';")
